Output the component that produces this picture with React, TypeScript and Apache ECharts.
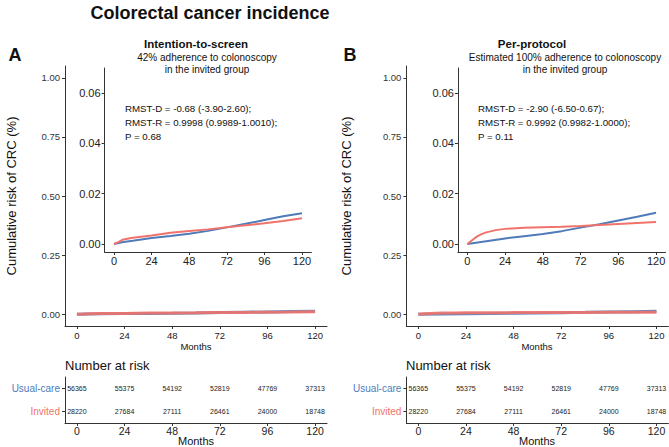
import React, { useEffect, useRef } from "react";
import * as echarts from "echarts";

// ---- data ----
const monthTicks = [0, 24, 48, 72, 96, 120];
const mainYTicks = [0, 0.25, 0.5, 0.75, 1.0];
const insetYTicks = [0, 0.02, 0.04, 0.06];

// Intention-to-screen (A)
const aUsualTimes = [0, 6, 12, 24, 36, 48, 60, 72, 84, 96, 108, 120];
const aUsualRisk = [0, 0.0008, 0.0013, 0.0024, 0.0032, 0.0041, 0.0052, 0.0066, 0.008, 0.0095, 0.011, 0.0122];
const aInvitedTimes = [0, 3, 6, 12, 24, 36, 48, 60, 72, 84, 96, 108, 120];
const aInvitedRisk = [0, 0.0008, 0.0018, 0.0025, 0.0034, 0.0045, 0.0052, 0.0058, 0.0066, 0.0074, 0.0082, 0.0091, 0.0102];

// Per-protocol (B)
const bUsualTimes = [0, 12, 24, 36, 48, 60, 72, 84, 96, 108, 120];
const bUsualRisk = [0, 0.0011, 0.0022, 0.0031, 0.004, 0.0051, 0.0065, 0.0078, 0.0093, 0.0108, 0.0124];
const bInvitedTimes = [0, 3, 6, 9, 12, 18, 24, 36, 48, 60, 72, 84, 96, 108, 120];
const bInvitedRisk = [0, 0.0015, 0.0029, 0.0039, 0.0046, 0.0055, 0.006, 0.0064, 0.0066, 0.0068, 0.0071, 0.0075, 0.0079, 0.0083, 0.0087];

// Number at risk
const riskTimes = [0, 24, 48, 72, 96, 120];
const groups = ["Invited", "Usual-care"];
const usualAtRisk = [56365, 55375, 54192, 52819, 47769, 37313];
const invitedAtRisk = [28220, 27684, 27111, 26461, 24000, 18748];

const BLUE = "#4F7BBA";
const RED = "#F0736B";
const FONT = "Liberation Sans, Arial, sans-serif";
const AX = "#333333";

function zip(t: number[], v: number[]) {
  return t.map((x, i) => [x, v[i]]);
}

export default function App() {
  const ref = useRef<HTMLDivElement>(null);
  useEffect(() => {
    if (!ref.current) return;
    const chart = echarts.init(ref.current, undefined, { renderer: "svg" });

    const grids = [
      { left: 65, top: 66, width: 262, height: 260 }, // A main
      { left: 104.6, top: 68, width: 206.8, height: 184 }, // A inset
      { left: 65, top: 377, width: 262, height: 46 }, // A table
      { left: 406.4, top: 66, width: 262, height: 260 }, // B main
      { left: 457.9, top: 68, width: 207.6, height: 184 }, // B inset
      { left: 406.4, top: 377, width: 262, height: 46 }, // B table
    ];

    const axisLine = { show: true, onZero: false, lineStyle: { color: AX, width: 1 } };
    const xAxisOf = (gi: number, fs: number, margin: number) => ({
      type: "value",
      gridIndex: gi,
      min: -6,
      max: 126,
      axisLine,
      axisTick: { show: true, length: 3, lineStyle: { color: AX }, customValues: monthTicks },
      axisLabel: { customValues: monthTicks, fontSize: fs, color: "#222", fontFamily: FONT, margin },
      splitLine: { show: false },
    });
    const mainY = (gi: number) => ({
      type: "value",
      gridIndex: gi,
      min: -0.05,
      max: 1.05,
      axisLine,
      axisTick: { show: true, length: 3, lineStyle: { color: AX }, customValues: mainYTicks },
      axisLabel: {
        customValues: mainYTicks,
        fontSize: 9.5,
        color: "#333",
        fontFamily: FONT,
        margin: 5,
        formatter: (v: number) => v.toFixed(2),
      },
      splitLine: { show: false },
    });
    const insetY = (gi: number) => ({
      type: "value",
      gridIndex: gi,
      min: -0.0032,
      max: 0.07,
      axisLine,
      axisTick: { show: true, length: 3, lineStyle: { color: AX }, customValues: insetYTicks },
      axisLabel: {
        customValues: insetYTicks,
        fontSize: 11,
        color: "#222",
        fontFamily: FONT,
        margin: 4,
        formatter: (v: number) => v.toFixed(2),
      },
      splitLine: { show: false },
    });
    const tableY = (gi: number) => ({
      type: "category",
      gridIndex: gi,
      data: groups,
      axisLine,
      axisTick: { show: true, length: 3, lineStyle: { color: AX }, alignWithLabel: true },
      axisLabel: {
        fontSize: 10,
        fontFamily: FONT,
        margin: 5,
        color: (v: string) => (v === "Invited" ? RED : BLUE),
      },
    });

    const line = (xi: number, data: number[][], color: string, w: number) => ({
      type: "line",
      xAxisIndex: xi,
      yAxisIndex: xi,
      data,
      showSymbol: false,
      symbol: "none",
      lineStyle: { color, width: w, opacity: w > 2.5 ? 0.9 : 1 },
      silent: true,
    });
    const riskSeries = (xi: number, name: string, vals: number[]) => ({
      type: "custom",
      xAxisIndex: xi,
      yAxisIndex: xi,
      data: riskTimes.map((t, i) => [t, groups.indexOf(name), vals[i]]),
      encode: { x: 0, y: 1 },
      renderItem: (_params: any, api: any) => {
        const p = api.coord([api.value(0), api.value(1)]);
        return {
          type: "text",
          x: p[0],
          y: p[1],
          style: {
            text: String(api.value(2)),
            font: `7px ${FONT}`,
            fill: "#222",
            align: "center",
            verticalAlign: "middle",
          },
        };
      },
      silent: true,
    });

    const txt = (text: string, x: number, y: number, font: string, extra: any = {}) => ({
      type: "text",
      x,
      y,
      style: { text, font, fill: "#111", align: "center", verticalAlign: "middle", ...extra },
      silent: true,
    });
    const vtxt = (text: string, x: number, y: number) => ({
      type: "text",
      x,
      y,
      rotation: Math.PI / 2,
      style: { text, font: `13px ${FONT}`, fill: "#111", align: "center", verticalAlign: "middle" },
      silent: true,
    });

    const graphics: any[] = [
      txt("Colorectal cancer incidence", 210, 13, `bold 18px ${FONT}`),
      txt("A", 15, 55, `bold 18px ${FONT}`),
      txt("B", 350, 55, `bold 18px ${FONT}`),
      txt("Intention-to-screen", 196, 44, `bold 11.5px ${FONT}`),
      txt("42% adherence to colonoscopy", 207, 57, `10px ${FONT}`),
      txt("in the invited group", 207, 69, `10px ${FONT}`),
      txt("Per-protocol", 532, 44, `bold 11.5px ${FONT}`),
      txt("Estimated 100% adherence to colonoscopy", 565, 57, `10px ${FONT}`),
      txt("in the invited group", 565, 69, `10px ${FONT}`),
      txt("RMST-D = -0.68 (-3.90-2.60);", 125, 108, `9.7px ${FONT}`, { align: "left" }),
      txt("RMST-R = 0.9998 (0.9989-1.0010);", 125, 122, `9.7px ${FONT}`, { align: "left" }),
      txt("P = 0.68", 125, 136, `9.7px ${FONT}`, { align: "left" }),
      txt("RMST-D = -2.90 (-6.50-0.67);", 478, 108, `9.7px ${FONT}`, { align: "left" }),
      txt("RMST-R = 0.9992 (0.9982-1.0000);", 478, 122, `9.7px ${FONT}`, { align: "left" }),
      txt("P = 0.11", 478, 136, `9.7px ${FONT}`, { align: "left" }),
      txt("Months", 196, 346, `9.5px ${FONT}`),
      txt("Months", 537, 346, `9.5px ${FONT}`),
      txt("Number at risk", 65, 365, `13px ${FONT}`, { align: "left" }),
      txt("Number at risk", 406, 365, `13px ${FONT}`, { align: "left" }),
      txt("Months", 196, 441, `11px ${FONT}`),
      txt("Months", 537, 441, `11px ${FONT}`),
      vtxt("Cumulative risk of CRC (%)", 11, 196),
      vtxt("Cumulative risk of CRC (%)", 346, 196),
    ];

    chart.setOption({
      animation: false,
      backgroundColor: "#ffffff",
      textStyle: { fontFamily: FONT },
      grid: grids.map((g) => ({ ...g, containLabel: false })),
      xAxis: [
        xAxisOf(0, 9.5, 4),
        xAxisOf(1, 11, 3),
        xAxisOf(2, 10.5, 2),
        xAxisOf(3, 9.5, 4),
        xAxisOf(4, 11, 3),
        xAxisOf(5, 10.5, 2),
      ],
      yAxis: [mainY(0), insetY(1), tableY(2), mainY(3), insetY(4), tableY(5)],
      series: [
        line(0, zip(aUsualTimes, aUsualRisk), BLUE, 3),
        line(0, zip(aInvitedTimes, aInvitedRisk), RED, 3),
        line(1, zip(aUsualTimes, aUsualRisk), BLUE, 2),
        line(1, zip(aInvitedTimes, aInvitedRisk), RED, 2),
        riskSeries(2, "Usual-care", usualAtRisk),
        riskSeries(2, "Invited", invitedAtRisk),
        line(3, zip(bUsualTimes, bUsualRisk), BLUE, 3),
        line(3, zip(bInvitedTimes, bInvitedRisk), RED, 3),
        line(4, zip(bUsualTimes, bUsualRisk), BLUE, 2),
        line(4, zip(bInvitedTimes, bInvitedRisk), RED, 2),
        riskSeries(5, "Usual-care", usualAtRisk),
        riskSeries(5, "Invited", invitedAtRisk),
      ],
      graphic: graphics,
    });
    return () => chart.dispose();
  }, []);

  return (
    <div
      ref={ref}
      style={{ position: "fixed", left: 0, top: 0, width: 669, height: 447, background: "#fff" }}
    />
  );
}
